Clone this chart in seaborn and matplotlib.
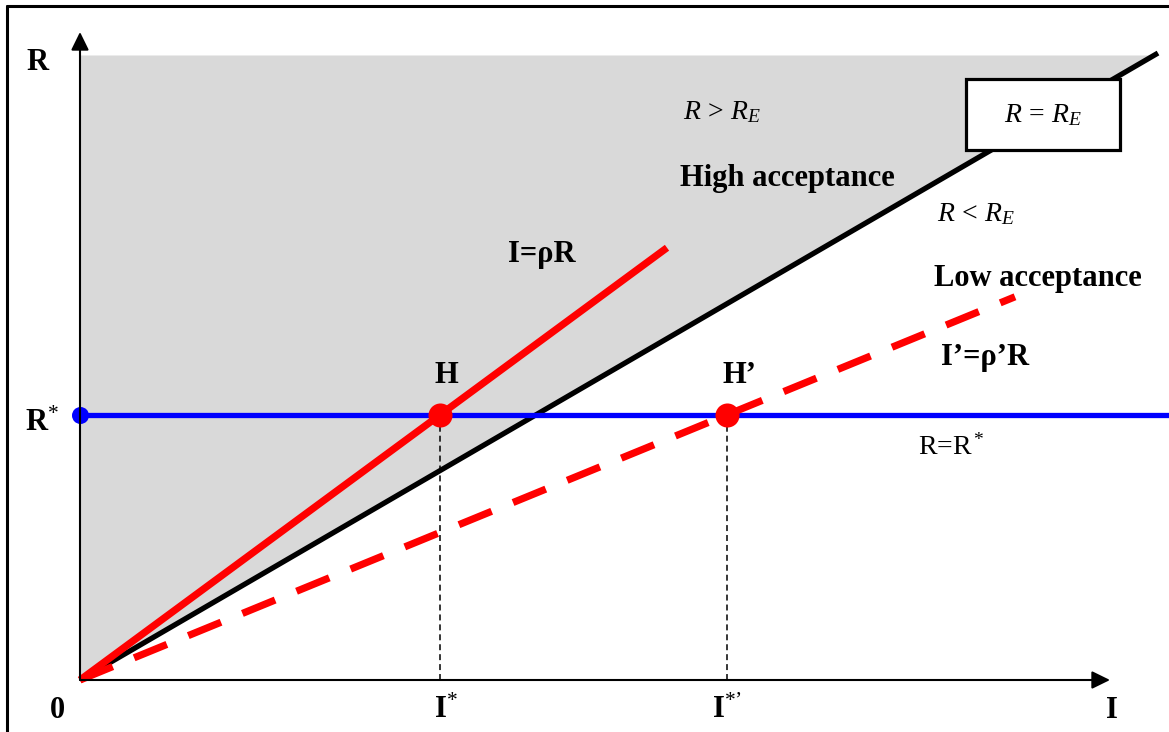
import numpy as np
import matplotlib
matplotlib.use("Agg")
import matplotlib.pyplot as plt
from matplotlib.patches import Rectangle, FancyArrowPatch
from matplotlib.lines import Line2D
import seaborn as sns

sns.set_style("white")
plt.rcParams["font.family"] = ["Liberation Serif", "DejaVu Serif"]
plt.rcParams["text.color"] = "black"
plt.rcParams["mathtext.fontset"] = "custom"
plt.rcParams["mathtext.rm"] = "Liberation Serif"
plt.rcParams["mathtext.it"] = "Liberation Serif:italic"
plt.rcParams["mathtext.bf"] = "Liberation Serif:bold"

# Model parameters (investment I on the horizontal axis, return R on the vertical)
r_star = 2.65          # R*
rho = 1.358            # I = rho R  (high acceptance)
rho_prime = 2.44       # I' = rho' R (low acceptance)
re_slope = 0.5816      # R = R_E boundary, R_E = re_slope * I
r_top = 6.25           # upper edge of the shaded region
i_axis_end = 10.30
r_axis_end = 6.48
i_rho_end = 5.87
i_rho_prime_end = 9.35
i_re_end = 10.78
i_blue_end = 10.89

i_star = rho * r_star
i_star_prime = rho_prime * r_star

fig = plt.figure(figsize=(11.69, 7.32), dpi=100)
ax = fig.add_axes([0, 0, 1, 1])
ax.set_xlim(-0.80, 10.89)
ax.set_ylim(-0.52, 6.80)
ax.axis("off")

line_kw = dict(estimator=None, sort=False, ax=ax, solid_capstyle="butt")

# Shaded region above the R = R_E boundary
i_fill = np.linspace(0, r_top / re_slope, 50)
ax.fill_between(i_fill, re_slope * i_fill, r_top, color="#d9d9d9", lw=0, zorder=0)

# R = R_E boundary
i_re = np.array([0, i_re_end])
sns.lineplot(x=i_re, y=re_slope * i_re, color="black", lw=3.8, zorder=3, **line_kw)

# R = R* horizontal
sns.lineplot(x=[0, i_blue_end], y=[r_star, r_star], color="#0000ff", lw=3.8, zorder=4,
             **line_kw)

# I = rho R
i_r = np.array([0, i_rho_end])
sns.lineplot(x=i_r, y=i_r / rho, color="#ff0000", lw=5.2, zorder=5, **line_kw)

# I' = rho' R (dashed)
i_rp = np.array([0, i_rho_prime_end])
sns.lineplot(x=i_rp, y=i_rp / rho_prime, color="#ff0000", lw=5.2, zorder=5, **line_kw)
ax.lines[-1].set_dashes((4.9, 3.2))

# Drop lines from the equilibria to the I axis
for xv in (i_star, i_star_prime):
    sns.lineplot(x=[xv, xv], y=[0, r_star], color="black", lw=1.1, zorder=2, **line_kw)
    ax.lines[-1].set_dashes((3.9, 2.6))

# Points
sns.scatterplot(x=[0], y=[r_star], color="#0000ff", s=150, linewidth=0, ax=ax, zorder=6)
sns.scatterplot(x=[i_star, i_star_prime], y=[r_star, r_star], color="#ff0000",
                s=300, linewidth=0, ax=ax, zorder=6)

# Axes with arrows
for end in [(i_axis_end, 0), (0, r_axis_end)]:
    arr = FancyArrowPatch((0, 0), end, arrowstyle="-|>,head_length=0.55,head_width=0.27",
                          mutation_scale=20, color="black", lw=1.5, shrinkA=0, shrinkB=0,
                          zorder=7)
    ax.add_patch(arr)

# Boxed label for the boundary
ax.add_patch(Rectangle((8.86, 5.30), 1.54, 0.71, facecolor="white", edgecolor="black",
                       lw=2.3, zorder=8))
ax.text(9.63, 5.58, r"$R\,=\,R_E$", fontsize=20, ha="center", va="baseline", zorder=9)

bold = dict(fontsize=22, fontweight="bold", ha="center", va="baseline")
ax.text(-0.42, 6.10, "R", **bold)
ax.text(-0.38, 2.49, r"$\mathbf{R}^{*}$", fontsize=22, ha="center", va="baseline")
ax.text(-0.23, -0.38, "0", **bold)
ax.text(i_star + 0.06, -0.38, r"$\mathbf{I}^{*}$", fontsize=22, ha="center", va="baseline")
ax.text(i_star_prime + 0.005, -0.38, "$\\mathbf{I}^{*\u2019}$", fontsize=22,
        ha="center", va="baseline")
ax.text(10.32, -0.38, "I", **bold)
ax.text(i_star + 0.07, 2.97, "H", **bold)
ax.text(i_star_prime + 0.13, 2.97, "H\u2019", **bold)
ax.text(4.62, 4.18, "I=\u03c1R", **bold)
ax.text(9.05, 3.15, "I\u2019=\u03c1\u2019R", **bold)
ax.text(7.07, 4.94, "High acceptance", **bold)
ax.text(9.58, 3.94, "Low acceptance", **bold)

ax.text(6.42, 5.61, r"$R\,>\,R_E$", fontsize=20, ha="center", va="baseline")
ax.text(8.96, 4.59, r"$R\,<\,R_E$", fontsize=20, ha="center", va="baseline")
ax.text(8.71, 2.25, r"R=R$^*$", fontsize=20, ha="center", va="baseline")

# Outer frame
fig.add_artist(Line2D([7 / 1169, 7 / 1169], [0, 1 - 6 / 732], color="black", lw=2.2,
                      transform=fig.transFigure))
fig.add_artist(Line2D([7 / 1169, 1], [1 - 6 / 732, 1 - 6 / 732], color="black", lw=2.2,
                      transform=fig.transFigure))

fig.savefig("out.png", dpi=100)
